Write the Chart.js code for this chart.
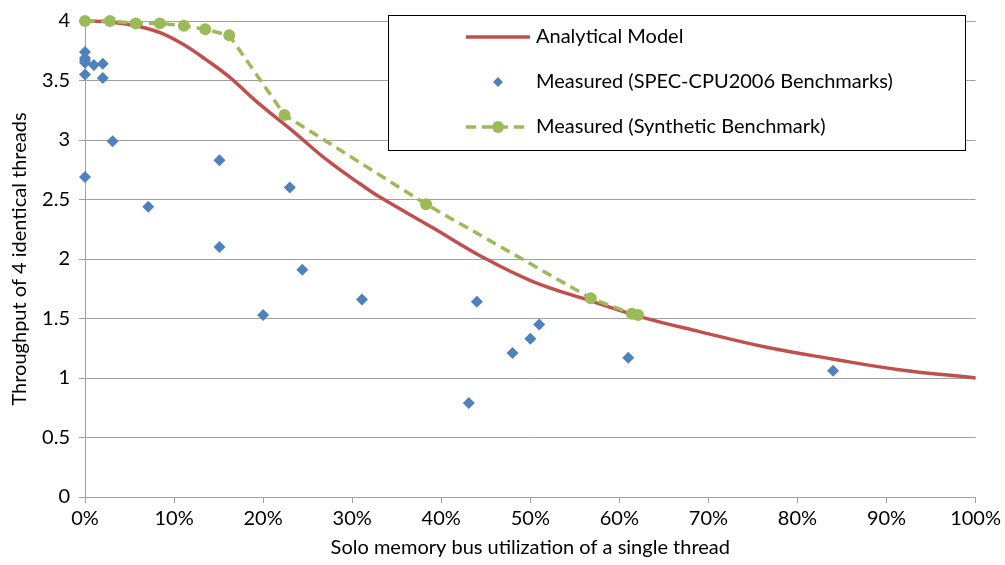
<!DOCTYPE html>
<html>
<head>
<meta charset="utf-8">
<script src="https://cdn.jsdelivr.net/npm/chart.js@4/dist/chart.umd.min.js"></script>
<style>
  html, body { margin: 0; padding: 0; background: #fff; }
  #wrap { width: 1005px; height: 565px; }
</style>
</head>
<body>
<div id="wrap"><canvas id="chart_canvas"></canvas></div>
<script>
// analytical model curve
const modelX = [0, 0.03, 0.057, 0.085, 0.111, 0.135, 0.162, 0.193, 0.234, 0.272, 0.309, 0.331, 0.391, 0.443, 0.503, 0.567, 0.626, 0.69, 0.764, 0.839, 0.914, 1.0];
const modelY = [4.0, 3.99, 3.96, 3.9, 3.8, 3.68, 3.53, 3.32, 3.07, 2.83, 2.63, 2.52, 2.26, 2.03, 1.81, 1.65, 1.51, 1.39, 1.26, 1.16, 1.07, 1.0];

// SPEC-CPU2006 measurements
const specX = [0, 0, 0, 0, 0, 0, 0.01, 0.02, 0.02, 0.031, 0.071, 0.151, 0.151, 0.20, 0.23, 0.244, 0.311, 0.431, 0.44, 0.48, 0.50, 0.51, 0.61, 0.84];
const specY = [3.74, 3.69, 3.67, 3.65, 3.55, 2.69, 3.63, 3.64, 3.52, 2.99, 2.44, 2.83, 2.10, 1.53, 2.60, 1.91, 1.66, 0.79, 1.64, 1.21, 1.33, 1.45, 1.17, 1.06];

// synthetic benchmark
const synthX = [0, 0.028, 0.057, 0.084, 0.111, 0.135, 0.162, 0.224, 0.383, 0.568, 0.614, 0.621];
const synthY = [4.0, 4.0, 3.98, 3.98, 3.96, 3.93, 3.88, 3.21, 2.46, 1.67, 1.54, 1.53];

const seriesNames = ['Analytical Model', 'Measured (SPEC-CPU2006 Benchmarks)', 'Measured (Synthetic Benchmark)'];
const xTickLabels = ['0%', '10%', '20%', '30%', '40%', '50%', '60%', '70%', '80%', '90%', '100%'];
const yTickLabels = ['0', '0.5', '1', '1.5', '2', '2.5', '3', '3.5', '4'];

const RED = '#C0504D', BLUE = '#4F81BD', GREEN = '#9BBB59';
const FONT = 'Lato, "Open Sans", sans-serif';

const pts = (xs, ys) => xs.map((x, i) => ({ x: x, y: ys[i] }));

// box legend drawn inside the plot, like the original
const legendBox = {
    id: 'legendBox',
    afterDraw(chart) {
        const ctx = chart.ctx;
        ctx.save();
        ctx.fillStyle = '#fff';
        ctx.fillRect(388, 15, 577, 135);
        ctx.strokeStyle = '#000';
        ctx.lineWidth = 1;
        ctx.strokeRect(388.5, 15.5, 577, 135);

        const rows = [37, 82, 127];
        const x0 = 466, x1 = 530, mid = 498;

        // model
        ctx.strokeStyle = RED;
        ctx.lineWidth = 3.5;
        ctx.beginPath(); ctx.moveTo(x0, rows[0]); ctx.lineTo(x1, rows[0]); ctx.stroke();

        // spec diamond
        ctx.fillStyle = BLUE;
        ctx.beginPath();
        ctx.moveTo(mid, rows[1] - 5); ctx.lineTo(mid + 5, rows[1]);
        ctx.lineTo(mid, rows[1] + 5); ctx.lineTo(mid - 5, rows[1]);
        ctx.closePath(); ctx.fill();

        // synthetic
        ctx.strokeStyle = GREEN;
        ctx.lineWidth = 3.5;
        ctx.setLineDash([10, 6]);
        ctx.beginPath(); ctx.moveTo(x0, rows[2]); ctx.lineTo(x1, rows[2]); ctx.stroke();
        ctx.setLineDash([]);
        ctx.fillStyle = GREEN;
        ctx.beginPath(); ctx.arc(mid, rows[2], 6, 0, Math.PI * 2); ctx.fill();

        ctx.fillStyle = '#000';
        ctx.font = '20px ' + FONT;
        ctx.textBaseline = 'middle';
        seriesNames.forEach((n, i) => ctx.fillText(n, 536, rows[i]));
        ctx.restore();
    }
};

const canvas = document.getElementById('chart_canvas');

new Chart(canvas, {
    type: 'scatter',
    data: {
        datasets: [{
            label: seriesNames[0],
            data: pts(modelX, modelY),
            showLine: true,
            borderColor: RED,
            borderWidth: 3.5,
            pointRadius: 0,
            tension: 0.4,
            clip: false,
            order: 2
        }, {
            label: seriesNames[1],
            data: pts(specX, specY),
            showLine: false,
            pointStyle: 'rectRot',
            pointRadius: 6,
            backgroundColor: BLUE,
            borderColor: BLUE,
            borderWidth: 0,
            clip: false,
            order: 1
        }, {
            label: seriesNames[2],
            data: pts(synthX, synthY),
            showLine: true,
            borderColor: GREEN,
            borderWidth: 3.5,
            borderDash: [10, 6],
            pointRadius: 6,
            pointBackgroundColor: GREEN,
            pointBorderWidth: 0,
            backgroundColor: GREEN,
            tension: 0,
            clip: false,
            order: 0
        }]
    },
    options: {
        responsive: true,
        maintainAspectRatio: false,
        animation: false,
        layout: { padding: { top: 15, right: 28, left: 0, bottom: 0 } },
        plugins: {
            legend: { display: false },
            tooltip: { enabled: false }
        },
        scales: {
            x: {
                type: 'linear',
                min: 0,
                max: 1,
                afterFit: (s) => { s.height = 68; },
                ticks: {
                    stepSize: 0.1,
                    color: '#000',
                    font: { family: FONT, size: 20 },
                    padding: 4,
                    maxRotation: 0,
                    callback: (v) => xTickLabels[Math.round(v * 10)]
                },
                grid: { drawOnChartArea: false, color: '#a0a0a0', tickLength: 6 },
                border: { color: '#a0a0a0' },
                title: {
                    display: true,
                    text: 'Solo memory bus utilization of a single thread',
                    color: '#000',
                    font: { family: FONT, size: 20 },
                    padding: { top: 0, bottom: 5 }
                }
            },
            y: {
                min: 0,
                max: 4,
                afterFit: (s) => { s.width = 85; },
                ticks: {
                    stepSize: 0.5,
                    color: '#000',
                    font: { family: FONT, size: 20 },
                    padding: 9,
                    callback: (v) => yTickLabels[Math.round(v * 2)]
                },
                grid: { color: '#a0a0a0', tickLength: 6 },
                border: { color: '#a0a0a0' },
                title: {
                    display: true,
                    text: 'Throughput of 4 identical threads',
                    color: '#000',
                    font: { family: FONT, size: 20 },
                    padding: { top: 8, bottom: 0 }
                }
            }
        }
    },
    plugins: [legendBox]
});
</script>
</body>
</html>
